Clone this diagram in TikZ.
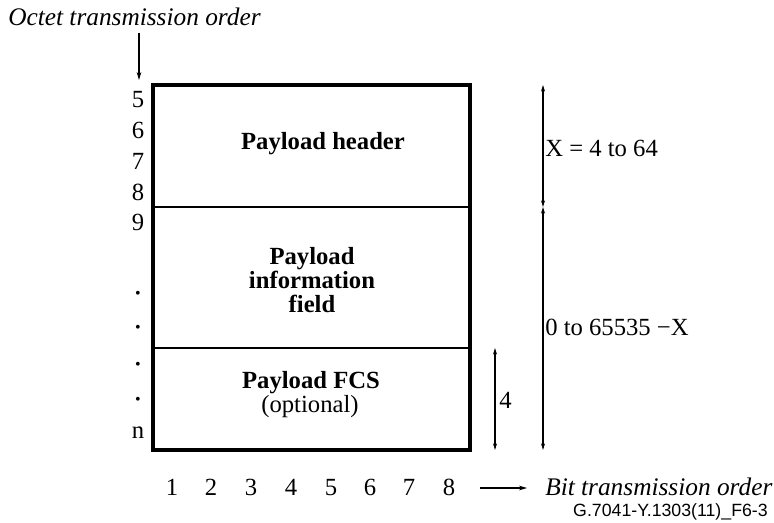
\documentclass[tikz,border=0pt]{standalone}
\usepackage{fontspec}
\setmainfont{Liberation Serif}
\newfontfamily\codefont{Liberation Sans}
\usetikzlibrary{arrows.meta}
\begin{document}
\begin{tikzpicture}[x=0.75pt,y=-0.75pt,
  txt/.style={inner sep=0pt, font=\fontsize{18.5}{18}\selectfont},
  bold/.style={inner sep=0pt, font=\fontsize{18.5}{18}\selectfont\bfseries, align=center},
  ital/.style={inner sep=0pt, font=\fontsize{19}{18}\selectfont\itshape},
  num/.style={inner sep=0pt, anchor=base, font=\fontsize{18.5}{18}\selectfont},
  dotm/.style={inner sep=0pt, font=\fontsize{12}{12}\selectfont},
  frame/.style={line width=2.3pt},
  divider/.style={line width=1.1pt},
  dim/.style={line width=0.8pt, {Stealth[length=5pt,width=3pt]}-{Stealth[length=5pt,width=3pt]}},
  ptr/.style={line width=0.8pt, -{Stealth[length=6pt,width=3.5pt]}}]
\useasboundingbox (0,0) rectangle (774,523);

% box
\coordinate (tl) at (153,85);
\coordinate (br) at (470,450);
\coordinate (d1l) at (153,207);
\coordinate (d1r) at (470,207);
\coordinate (d2l) at (153,348);
\coordinate (d2r) at (470,348);
\draw[divider] (d1l) -- (d1r);
\draw[divider] (d2l) -- (d2r);
\draw[frame] (tl) rectangle (br);

% field labels
\node[bold] (hdr) at (323,144) {Payload header};
\node[bold] (info) at (312,280) {Payload\\information\\field};
\node[bold] (fcs) at (311,383) {Payload FCS};
\node[txt] (opt) at (310,407) {(optional)};

% octet order
\node[ital, anchor=west] (octet) at (8,17) {Octet transmission order};
\coordinate (oa) at (139,33);
\coordinate (ob) at (139,80);
\draw[ptr] (oa) -- (ob);

% left numbers
\node[num] (n5) at (138,108) {5};
\node[num] (n6) at (138,139) {6};
\node[num] (n7) at (138,170) {7};
\node[num] (n8) at (138,201) {8};
\node[num] (n9) at (138,231) {9};
\node[dotm] (p1) at (138,295) {•};
\node[dotm] (p2) at (138,329) {•};
\node[dotm] (p3) at (138,366) {•};
\node[dotm] (p4) at (138,401) {•};
\node[num] (nn) at (138,439) {n};

% dimension arrows
\coordinate (x1) at (543,85);
\coordinate (x2) at (543,207);
\coordinate (x3) at (543,450);
\draw[dim] (x1) -- (x2);
\draw[dim] (x2) -- (x3);
\node[txt, anchor=west] (xl) at (545,148) {X = 4 to 64};
\node[txt, anchor=west] (yl) at (545,327) {0 to 65535 −X};
\coordinate (f1) at (495,348);
\coordinate (f2) at (495,450);
\draw[dim] (f1) -- (f2);
\node[txt, anchor=west] (fl) at (499,400) {4};

% bit numbers
\foreach \i/\x in {1/172,2/211,3/251,4/291,5/331,6/370,7/409,8/449}
  \node[num] (b\i) at (\x,495) {\i};
\coordinate (ba) at (480,488);
\coordinate (bb) at (527,488);
\draw[ptr] (ba) -- (bb);
\node[ital, anchor=west] (bit) at (545,487) {Bit transmission order};
\node[inner sep=0pt, anchor=east, font=\codefont\fontsize{13.3}{14}\selectfont] (code) at (768,512) {G.7041-Y.1303(11)\_F6-3};
\end{tikzpicture}
\end{document}
